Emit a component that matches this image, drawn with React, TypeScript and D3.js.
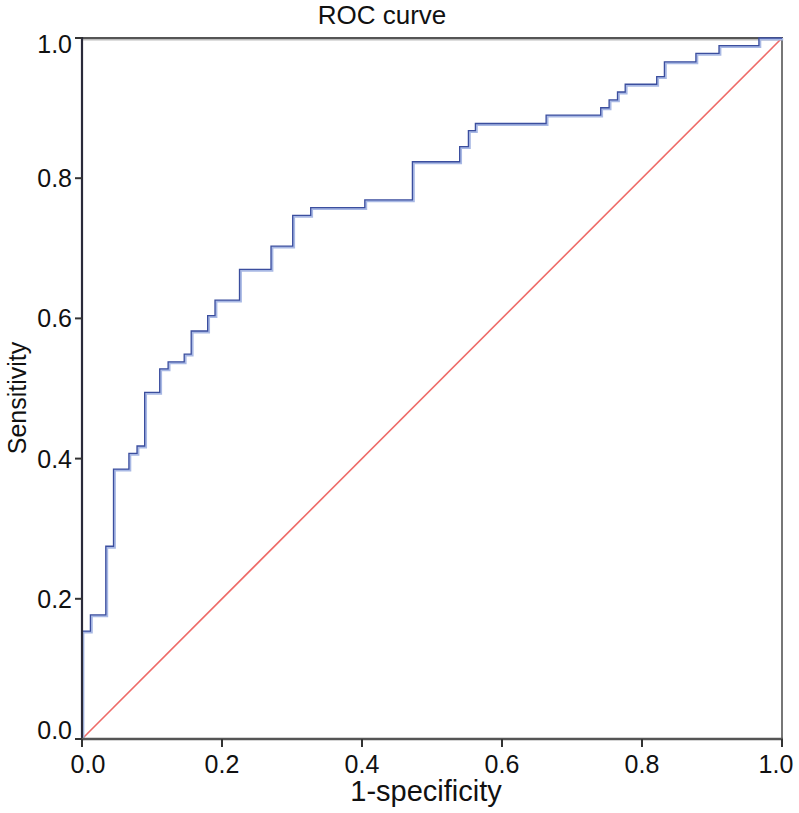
import React from "react";
import * as d3 from "d3";

const fpr = [0, 0, 0.012, 0.034, 0.045, 0.067, 0.0786, 0.0895, 0.111, 0.123, 0.146, 0.156, 0.1795, 0.19, 0.225, 0.27, 0.301, 0.3267, 0.404, 0.472, 0.5395, 0.552, 0.562, 0.663, 0.741, 0.753, 0.765, 0.776, 0.821, 0.832, 0.877, 0.91, 0.967, 1.0];
const tpr = [0, 0.154, 0.177, 0.275, 0.385, 0.4075, 0.418, 0.4945, 0.528, 0.538, 0.549, 0.582, 0.604, 0.626, 0.67, 0.703, 0.747, 0.758, 0.769, 0.8235, 0.845, 0.868, 0.878, 0.89, 0.9005, 0.9116, 0.923, 0.934, 0.945, 0.966, 0.978, 0.989, 1.0, 1.0];
const ticks = [0, 0.2, 0.4, 0.6, 0.8, 1.0];
const tickLabels = ["0.0", "0.2", "0.4", "0.6", "0.8", "1.0"];

const W = 799, H = 813;
const L = 82, R = 782, T = 38, B = 739;

export default function App() {
  const x = d3.scaleLinear().domain([0, 1]).range([L, R]);
  const y = d3.scaleLinear().domain([0, 1]).range([B, T]);
  const pts: [number, number][] = fpr.map((f, i) => [f, tpr[i]]);
  const line = d3.line<[number, number]>().x(d => x(d[0])).y(d => y(d[1])).curve(d3.curveStepAfter);
  const path = line(pts) || "";
  const font = "'Liberation Sans', Arial, Helvetica, sans-serif";
  return (
    <svg width={W} height={H} style={{ position: "absolute", left: 0, top: 0, background: "#fff" }} fontFamily={font}>
      <rect x={0} y={0} width={W} height={H} fill="#fff" />
      {/* frame top and right */}
      <line x1={L} x2={R + 1} y1={T + 1.6} y2={T + 1.6} stroke="#bbb" strokeWidth={2} />
      <line x1={L} x2={R + 1} y1={T} y2={T} stroke="#555" strokeWidth={2.2} />
      <line x1={R} x2={R} y1={T} y2={B} stroke="#777" strokeWidth={2} />
      {/* diagonal */}
      <line x1={x(0)} y1={y(0)} x2={x(1)} y2={y(1)} stroke="#ee6b68" strokeWidth={1.6} />
      {/* ROC curve shadow + line */}
      <path d={path} transform="translate(1.2,1.2)" fill="none" stroke="#a8b8e4" strokeWidth={2.4} />
      <path d={path} fill="none" stroke="#3b4e9e" strokeWidth={1.3} />
      {/* axes */}
      <line x1={L} x2={L} y1={T - 1} y2={B + 1} stroke="#2a2a3a" strokeWidth={2.2} />
      <line x1={L - 1} x2={R + 1} y1={B} y2={B} stroke="#555" strokeWidth={2.4} />
      {ticks.map((t, i) => (
        <g key={"y" + i}>
          <line x1={L - 7} x2={L} y1={y(t)} y2={y(t)} stroke="#333" strokeWidth={2} />
          <text x={72} y={y(t) + 9 + (i === 0 ? -9 : i === ticks.length - 1 ? 6 : 0)} textAnchor="end" fontSize={25} fill="#111">{tickLabels[i]}</text>
        </g>
      ))}
      {ticks.map((t, i) => (
        <g key={"x" + i}>
          <line x1={x(t)} x2={x(t)} y1={B} y2={B + 8} stroke="#333" strokeWidth={2} />
          <text x={x(t) + (i === 0 ? 6 : i === ticks.length - 1 ? -6 : 0)} y={773} textAnchor="middle" fontSize={25} fill="#111">{tickLabels[i]}</text>
        </g>
      ))}
      <text x={382} y={24} textAnchor="middle" fontSize={26} fill="#111">ROC curve</text>
      <text x={426} y={801} textAnchor="middle" fontSize={29} fill="#111">1-specificity</text>
      <text transform="translate(26,398) rotate(-90)" textAnchor="middle" fontSize={25} fill="#111">Sensitivity</text>
    </svg>
  );
}
